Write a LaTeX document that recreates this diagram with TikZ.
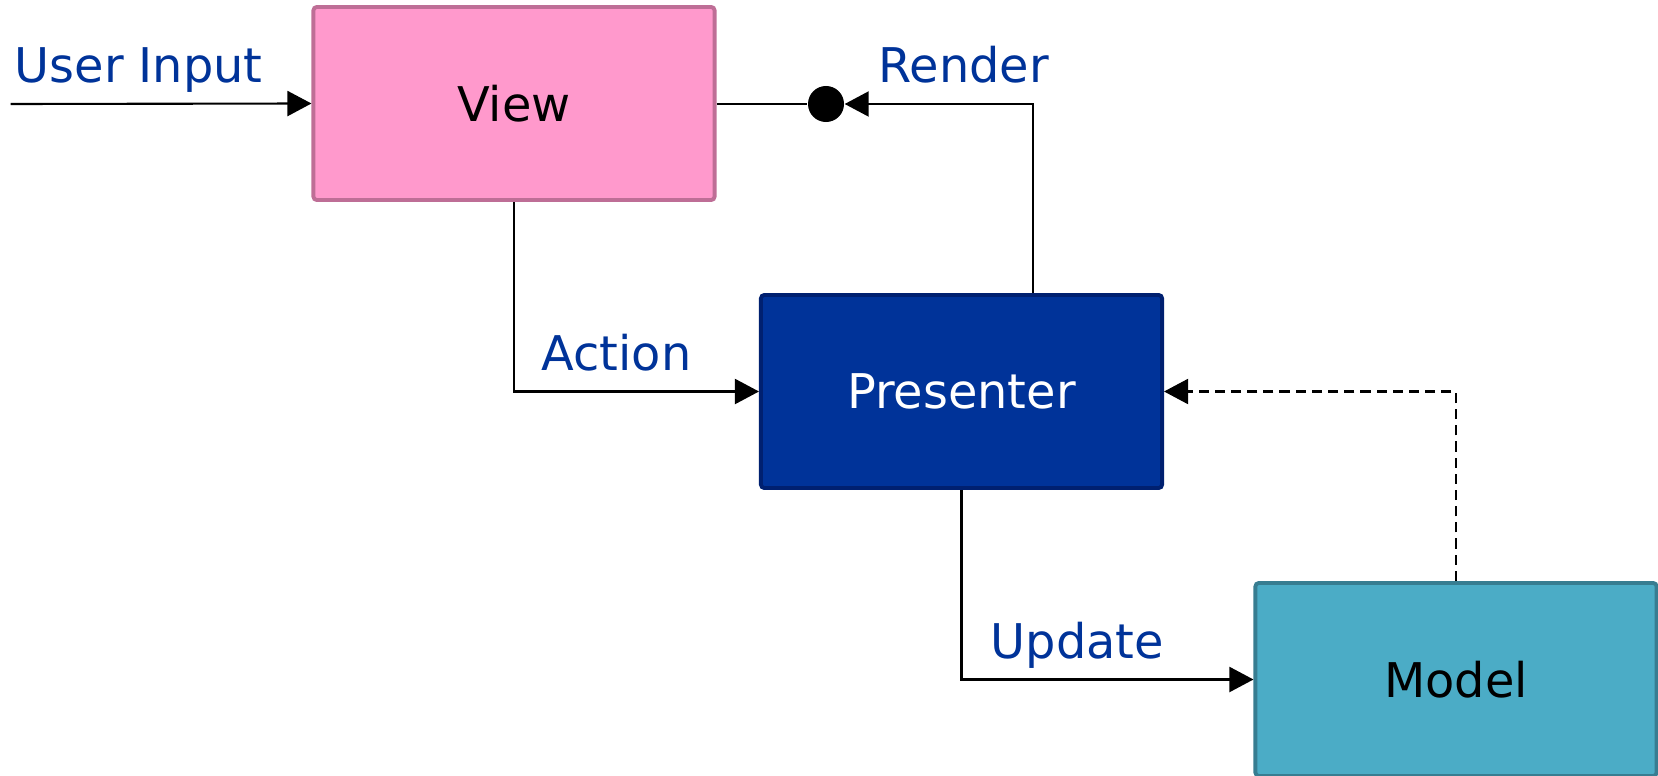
\documentclass[tikz,border=0pt]{standalone}
\usepackage{fontspec}
\setmainfont{DejaVu Sans}
\usetikzlibrary{arrows.meta}

\definecolor{viewfill}{HTML}{FF99CC}
\definecolor{viewline}{RGB}{190,110,150}
\definecolor{presfill}{HTML}{003399}
\definecolor{presline}{HTML}{002070}
\definecolor{modelfill}{HTML}{4BACC6}
\definecolor{modelline}{RGB}{55,125,145}
\definecolor{labelblue}{HTML}{003399}

\tikzset{
  box/.style={draw, line width=1.1pt, rounded corners=1pt,
    minimum width=4.01cm, minimum height=1.93cm, inner sep=0pt},
  flow/.style={line width=0.6pt, -{Triangle[length=0.24cm,width=0.25cm]}},
  tag/.style={anchor=base west, text=labelblue, inner sep=0pt}
}

\begin{document}
\begin{tikzpicture}[x=0.01cm, y=-0.01cm, font=\fontsize{13.6}{16}\selectfont]
  % Canvas (pixel grid of the original)
  \useasboundingbox (0,0) rectangle (1658,776);

  % Boxes
  \node[box, fill=viewfill, draw=viewline] (view) at (514,103.5) {View};
  \node[box, fill=presfill, draw=presline, text=white] (presenter) at (961.5,391.5) {Presenter};
  \node[box, fill=modelfill, draw=modelline] (model) at (1456,679.5) {Model};

  % Junction dot on the render line
  \node[circle, fill=black, minimum size=0.36cm, inner sep=0pt] (dot) at (826,104) {};
  \coordinate (input) at (10.6,104);

  % Connectors
  \draw[flow] (input) -- (view.west);
  \draw[line width=0.6pt] (view.east |- dot) -- (dot.west);
  \draw[flow] ([xshift=0.715cm]presenter.north) |- (dot.east);
  \draw[flow] (view.south) |- (presenter.west);
  \draw[flow] (presenter.south) |- (model.west);
  \draw[flow, dash pattern=on 2.9pt off 1.7pt] (model.north) |- (presenter.east);

  % Labels
  \node[tag] (userlbl) at (14,83) {User Input};
  \node[tag] (renderlbl) at (878,83) {Render};
  \node[tag] (actionlbl) at (541,370) {Action};
  \node[tag] (updatelbl) at (990,658) {Update};
\end{tikzpicture}
\end{document}
